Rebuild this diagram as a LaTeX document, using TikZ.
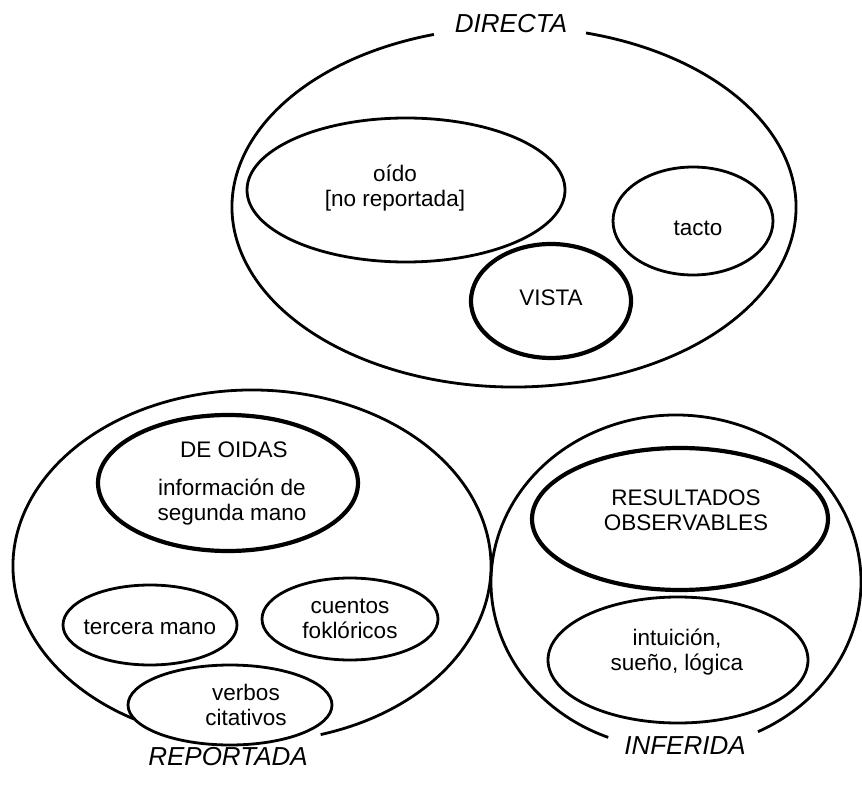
\documentclass[tikz,border=0pt]{standalone}
\usepackage{fontspec}
\setmainfont{Liberation Sans}
\usetikzlibrary{shapes.geometric}
\begin{document}
\begin{tikzpicture}[x=1pt,y=1pt,
  txt/.style={font=\fontsize{22.5}{25}\selectfont, align=center, inner sep=0pt},
  tag/.style={font=\fontsize{26}{28}\selectfont\itshape, inner sep=0pt},
  outer/.style={line width=2.8pt},
  ell/.style={draw, ellipse, line width=2.8pt, inner sep=0pt},
  thickell/.style={ell, line width=4.2pt}]
\useasboundingbox (0,0) rectangle (862,-786);

% outer groups (open ellipses with a gap for the label)
\coordinate (cdir) at (514,-207);
\coordinate (crep) at (252,-566);
\coordinate (cinf) at (676,-582);
\draw[outer] ([shift={(106.5:282 and 180)}]cdir) arc[start angle=106.5, end angle=435.2, x radius=282, y radius=180];
\draw[outer] ([shift={(286.7:239 and 176)}]crep) arc[start angle=286.7, end angle=600.5, x radius=239, y radius=176];
\draw[outer] ([shift={(296.3:185 and 167)}]cinf) arc[start angle=296.3, end angle=608.5, x radius=185, y radius=167];

\node[tag] (ldir) at (511,-24) {DIRECTA};
\node[tag] (lrep) at (228,-757) {REPORTADA};
\node[tag] (linf) at (685,-746) {INFERIDA};

% DIRECTA
\node[ell, minimum width=318pt, minimum height=144pt] (oido) at (406,-190) {};
\node[txt] (toido) at (395,-188) {oído\\{[no reportada]}};
\node[ell, minimum width=160pt, minimum height=108pt] (tacto) at (693,-221) {};
\node[txt] (ttacto) at (698,-228) {tacto};
\node[thickell, minimum width=160pt, minimum height=114pt] (vista) at (551,-301) {};
\node[txt] (tvista) at (551,-298) {VISTA};

% REPORTADA
\node[thickell, minimum width=260pt, minimum height=136pt] (oidas) at (228,-483) {};
\node[txt] (toidas) at (234,-450) {DE OIDAS};
\node[txt] (tsegunda) at (232,-502) {información de\\segunda mano};
\node[ell, minimum width=174pt, minimum height=80pt] (tercera) at (150,-625) {};
\node[txt] (ttercera) at (150,-627) {tercera mano};
\node[ell, minimum width=176pt, minimum height=82pt] (cuentos) at (350,-619) {};
\node[txt] (tcuentos) at (350,-619) {cuentos\\foklóricos};
\node[ell, minimum width=204pt, minimum height=80pt] (verbos) at (230,-705) {};
\node[txt] (tverbos) at (246,-705) {verbos\\citativos};

% INFERIDA
\node[thickell, minimum width=296pt, minimum height=142pt] (result) at (680,-519) {};
\node[txt] (tresult) at (686,-510) {RESULTADOS\\OBSERVABLES};
\node[ell, minimum width=260pt, minimum height=126pt] (intu) at (678,-660) {};
\node[txt] (tintu) at (677,-652) {intuición,\\sueño, lógica};
\end{tikzpicture}
\end{document}
